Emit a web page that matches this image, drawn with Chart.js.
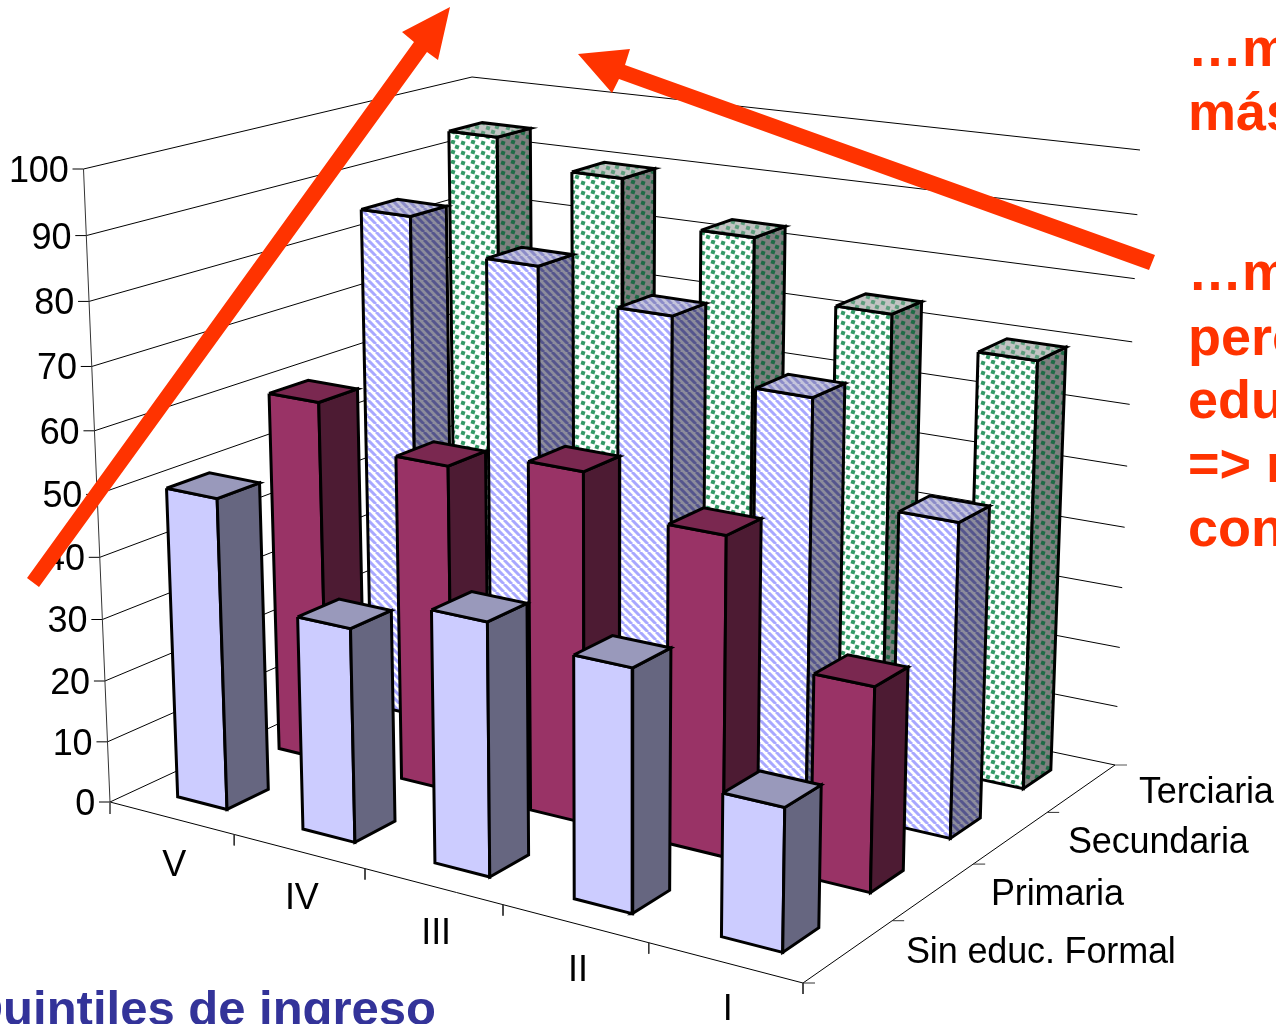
<!DOCTYPE html>
<html>
<head>
<meta charset="utf-8">
<script src="https://cdn.jsdelivr.net/npm/chart.js@4"></script>
<style>
    html, body { margin: 0; padding: 0; background: #fff; overflow: hidden; }
    canvas { display: block; }
</style>
</head>
<body>
<canvas id="chart" width="1276" height="1024"></canvas>
<script>
// Data
const quintiles = ['V', 'IV', 'III', 'II', 'I'];
const educationLevels = ['Sin educ. Formal', 'Primaria', 'Secundaria', 'Terciaria'];
const valueTicks = [0, 10, 20, 30, 40, 50, 60, 70, 80, 90, 100];
const sinEduc = [50.4, 34.3, 40, 37.8, 22];
const primaria = [59.8, 53.4, 56.5, 50.8, 32.2];
const secundaria = [85, 80, 75.3, 66, 50.5];
const terciaria = [94, 89.8, 83, 73.8, 69.8];
const seriesByLevel = [sinEduc, primaria, secundaria, terciaria];

// Corners of the 3D box on the page, key is u v w
const box = {
    '000': [110, 802], '100': [803, 983], '110': [1115, 765], '010': [478, 631],
    '001': [83.5, 169], '101': [814, 283], '111': [1140, 150], '011': [472, 77]
};
const perspectiveU = 0.145;
const perspectiveV = 0.2;
const perspectiveW = 0.058;
const barHalfU = 0.04;
const barHalfV = 0.05;
const barShiftV = -0.003;
const valueMax = 100;

function project(u, v, w) {
    // perspective squeeze along each axis, then trilinear between the corners
    const a = u / (1 + perspectiveU * (1 - u));
    const b = v * (1 + perspectiveV) / (1 + perspectiveV * v);
    const c = w / (1 + perspectiveW * (1 - w));
    const pick = i => {
        const bottom = (1 - b) * ((1 - a) * box['000'][i] + a * box['100'][i]) + b * ((1 - a) * box['010'][i] + a * box['110'][i]);
        const top = (1 - b) * ((1 - a) * box['001'][i] + a * box['101'][i]) + b * ((1 - a) * box['011'][i] + a * box['111'][i]);
        return (1 - c) * bottom + c * top;
    };
    return { x: pick(0), y: pick(1) };
}

function makeTile(size, background, paint) {
    const tile = document.createElement('canvas');
    tile.width = size;
    tile.height = size;
    const ctx = tile.getContext('2d');
    ctx.fillStyle = background;
    ctx.fillRect(0, 0, size, size);
    paint(ctx);
    return document.createElement('canvas').getContext('2d').createPattern(tile, 'repeat');
}

function stripes(background, color) {
    return makeTile(8, background, ctx => {
        ctx.strokeStyle = color;
        ctx.lineWidth = 3;
        [-8, 0, 8].forEach(k => {
            ctx.beginPath();
            ctx.moveTo(k, 0);
            ctx.lineTo(k + 8, 8);
            ctx.stroke();
        });
    });
}

// small tilted squares, staggered so they do not read as a straight grid
function dots(background, color) {
    return makeTile(20, background, ctx => {
        ctx.fillStyle = color;
        [[3, 3], [13, 2], [8, 8], [17, 7], [3, 13], [13, 12], [8, 17], [17, 17]].forEach(d => {
            ctx.save();
            ctx.translate(d[0], d[1]);
            ctx.rotate(0.3);
            ctx.fillRect(-2, -2, 4, 4);
            ctx.restore();
        });
    });
}

const levelStyles = [
    { front: '#ccccff', side: '#666680', top: '#9999bb' },
    { front: '#993366', side: '#4d1b33', top: '#7a2850' },
    { front: stripes('#ffffff', '#a8a8ff'), side: stripes('#8c8c9c', '#55558c'), top: stripes('#c4c4dc', '#8c8cc8') },
    { front: dots('#ffffff', '#339966'), side: dots('#808080', '#1f6a46'), top: dots('#c4c4c4', '#5c9c7c') }
];

const datasets = [];

function addLine(points, color, width) {
    datasets.push({ data: points, borderColor: color, borderWidth: width, pointRadius: 0, showLine: true });
}

function addFace(corners, fill, edge) {
    datasets.push({
        data: corners.concat([corners[0]]),
        faceFill: fill,
        borderColor: edge || 'rgba(0,0,0,0)',
        borderWidth: edge ? 3 : 0,
        borderJoinStyle: 'miter',
        pointRadius: 0,
        showLine: true
    });
}

// walls and floor
valueTicks.forEach(tick => {
    const w = tick / valueMax;
    const start = project(0, 0, w);
    addLine([{ x: start.x - 11, y: start.y }, start, project(0, 1, w), project(1, 1, w)], '#000', 1);
});
addLine([project(0, 0, 0), project(0, 0, 1)], '#333', 1);
addLine([project(0, 0, 0), project(1, 0, 0), project(1, 1, 0)], '#000', 1);
quintiles.forEach((q, i) => {
    const p = project((i + 1) / quintiles.length, 0, 0);
    addLine([p, { x: p.x, y: p.y + 11 }], '#333', 1);
});
addLine([{ x: box['000'][0], y: box['000'][1] }, { x: box['000'][0], y: box['000'][1] + 12 }], '#555', 1);
educationLevels.forEach((level, j) => {
    const p = project(1, j / educationLevels.length, 0);
    addLine([p, { x: p.x + 12, y: p.y }], '#333', 1);
});
const backFloor = project(1, 1, 0);
addLine([backFloor, { x: backFloor.x + 12, y: backFloor.y }], '#555', 1);

// bars, back row first so nearer bars cover the ones behind
for (let j = educationLevels.length - 1; j >= 0; j--) {
    const style = levelStyles[j];
    seriesByLevel[j].forEach((value, i) => {
        const uc = (i + 0.5) / quintiles.length;
        const vc = (j + 0.5) / educationLevels.length + barShiftV;
        const u0 = uc - barHalfU, u1 = uc + barHalfU;
        const v0 = vc - barHalfV, v1 = vc + barHalfV;
        const w = value / valueMax;
        addFace([project(u0, v0, w), project(u1, v0, w), project(u1, v0, 0), project(u0, v0, 0)], style.front, '#000');
        addFace([project(u1, v0, w), project(u1, v1, w), project(u1, v1, 0), project(u1, v0, 0)], style.side, '#000');
        addFace([project(u0, v0, w), project(u0, v1, w), project(u1, v1, w), project(u1, v0, w)], style.top, '#000');
    });
}

// the two red arrows drawn over the chart
const arrowUp = [[27, 578], [39, 587], [427, 52], [438, 60], [450, 7], [402, 32], [414, 42]];
const arrowLeft = [[1155, 255], [1149, 270], [619, 79], [612, 93], [578, 54], [630, 49], [625, 65]];
[arrowUp, arrowLeft].forEach(arrow => {
    addFace(arrow.map(p => ({ x: p[0], y: p[1] })), '#ff3300');
});

datasets.forEach((ds, i) => { ds.order = -i; });

const eduLabelSpots = [[906, 953], [991, 895], [1068, 843], [1139, 793]];
const sideNotes = [['…m', 66], ['más', 130], ['…m', 290], ['perc', 355], ['edu', 418], ['=> r', 482], ['con', 546]];

const chartTexts = {
    id: 'chartTexts',
    beforeDatasetsDraw(chart) {
        const { ctx } = chart;
        ctx.save();
        ctx.fillStyle = '#000';
        ctx.textBaseline = 'middle';
        ctx.font = '36px "Liberation Sans"';
        ctx.letterSpacing = '-0.15px';
        ctx.textAlign = 'right';
        valueTicks.forEach(tick => {
            const p = project(0, 0, tick / valueMax);
            ctx.fillText(String(tick), p.x - 15, p.y + 3);
        });
        ctx.textAlign = 'center';
        quintiles.forEach((q, i) => {
            const p = project((i + 0.5) / quintiles.length, 0, 0);
            ctx.fillText(q, p.x + 3, p.y + 48);
        });
        ctx.textAlign = 'left';
        educationLevels.forEach((level, j) => {
            ctx.fillText(level, eduLabelSpots[j][0], eduLabelSpots[j][1]);
        });
        ctx.letterSpacing = '0px';
        ctx.textBaseline = 'alphabetic';
        ctx.font = 'bold 49px "Liberation Sans"';
        ctx.fillStyle = '#333399';
        ctx.fillText('Quintiles de ingreso', -35, 1025);
        ctx.font = 'bold 54px "Liberation Sans"';
        ctx.fillStyle = '#ff3300';
        sideNotes.forEach(note => ctx.fillText(note[0], 1188, note[1]));
        ctx.restore();
    }
};

// fills each closed face before its outline goes on top
const faceFiller = {
    id: 'faceFiller',
    beforeDatasetDraw(chart, args) {
        const fill = chart.data.datasets[args.index].faceFill;
        if (!fill) return;
        const { ctx } = chart;
        ctx.save();
        ctx.beginPath();
        args.meta.data.forEach((pt, i) => {
            if (i === 0) ctx.moveTo(pt.x, pt.y);
            else ctx.lineTo(pt.x, pt.y);
        });
        ctx.closePath();
        ctx.fillStyle = fill;
        ctx.fill();
        ctx.restore();
    }
};

new Chart(document.getElementById('chart'), {
    type: 'scatter',
    data: { datasets: datasets },
    plugins: [chartTexts, faceFiller],
    options: {
        responsive: false,
        animation: false,
        layout: { padding: 0 },
        plugins: { legend: { display: false }, tooltip: { enabled: false } },
        scales: {
            x: { type: 'linear', min: 0, max: 1276, display: false },
            y: { type: 'linear', min: 0, max: 1024, reverse: true, display: false }
        }
    }
});
</script>
</body>
</html>
